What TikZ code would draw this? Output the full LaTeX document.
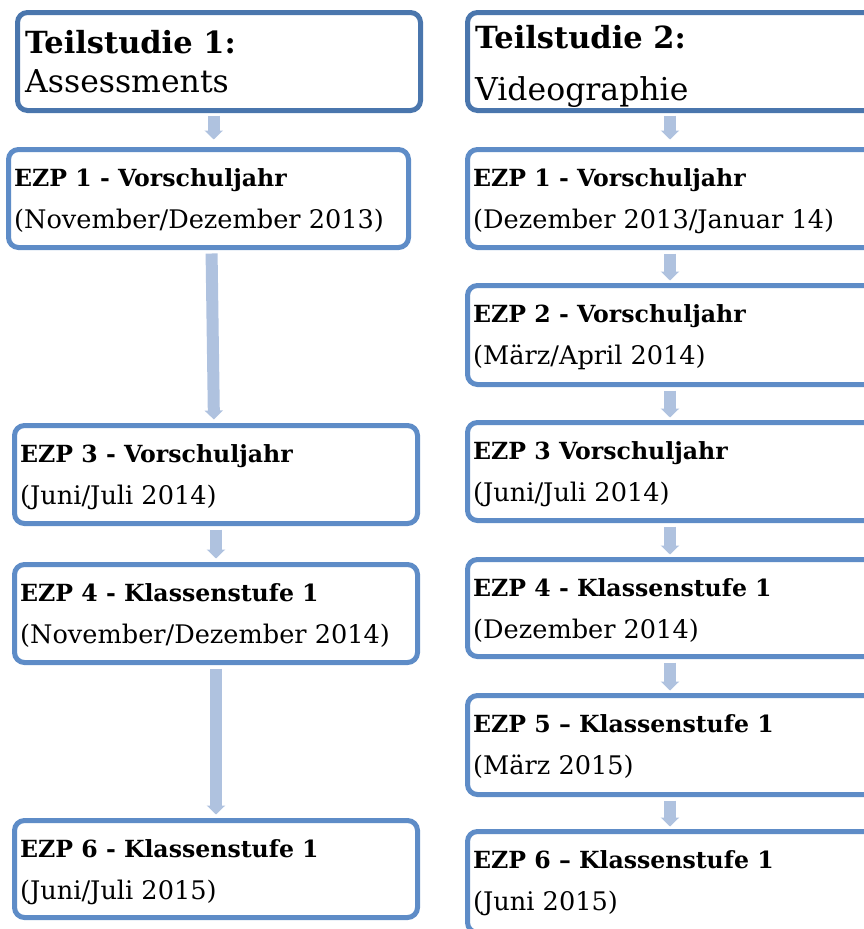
\documentclass[tikz,border=0pt]{standalone}
\usepackage{fontspec}
\setmainfont{DejaVu Serif}
\usetikzlibrary{arrows.meta,calc}
\definecolor{boxblue}{HTML}{5E8CC7}
\definecolor{headblue}{HTML}{4A76AD}
\definecolor{arrowblue}{HTML}{AFC2DF}
\newcommand\mkbox[7]{%
  \node[box, minimum width=#4, minimum height=#5] (#1) at (#2,#3) {};
  \node[boldtxt] (#1b) at ($(#1.north west)+(5.5,36.5)$) {#6};
  \node[regtxt] (#1r) at ($(#1.north west)+(5.5,78.5)$) {#7};
}
\begin{document}
\begin{tikzpicture}[x=1pt,y=-1pt,
  box/.style={draw=boxblue, line width=5pt, rounded corners=10pt, fill=white, inner sep=0pt, outer sep=0pt},
  headbox/.style={box, draw=headblue},
  boldtxt/.style={anchor=base west, inner sep=0pt, font=\fontsize{23.6}{27}\selectfont\bfseries},
  regtxt/.style={anchor=base west, inner sep=0pt, font=\fontsize{25.6}{28}\selectfont},
  titlebold/.style={anchor=base west, inner sep=0pt, font=\fontsize{30.5}{34}\selectfont\bfseries},
  titlereg/.style={anchor=base west, inner sep=0pt, font=\fontsize{31.5}{36}\selectfont},
  flow/.style={draw=arrowblue, line width=12pt, -{Triangle[width=18pt,length=9pt]}},
]
\useasboundingbox (0,0) rectangle (864,929);
\clip (0,0) rectangle (864,929);

% headers
\node[headbox, minimum width=403, minimum height=98] (T1) at (219,61.5) {};
\node[titlebold] (T1b) at (25,53) {Teilstudie 1:};
\node[titlereg] (T1r) at (25,92) {Assessments};
\node[headbox, minimum width=430, minimum height=98] (T2) at (682.5,61.5) {};
\node[titlebold] (T2b) at (475,48) {Teilstudie 2:};
\node[titlereg] (T2r) at (475,100) {Videographie};

% left column
\mkbox{L1}{208.5}{198.5}{400}{98}{EZP 1 - Vorschuljahr}{(November/Dezember 2013)}
\mkbox{L3}{216}{474.5}{403}{98}{EZP 3 - Vorschuljahr}{(Juni/Juli 2014)}
\mkbox{L4}{216}{613.5}{403}{98}{EZP 4 - Klassenstufe 1}{(November/Dezember 2014)}
\mkbox{L6}{216}{869}{403}{97}{EZP 6 - Klassenstufe 1}{(Juni/Juli 2015)}

% right column
\mkbox{R1}{682.5}{198.5}{430}{98}{EZP 1 - Vorschuljahr}{(Dezember 2013/Januar 14)}
\mkbox{R2}{682.5}{335}{430}{99}{EZP 2 - Vorschuljahr}{(März/April 2014)}
\mkbox{R3}{682.5}{471.5}{430}{98}{EZP 3 Vorschuljahr}{(Juni/Juli 2014)}
\mkbox{R4}{682.5}{608}{430}{97}{EZP 4 - Klassenstufe 1}{(Dezember 2014)}
\mkbox{R5}{682.5}{745}{430}{99}{EZP 5 – Klassenstufe 1}{(März 2015)}
\mkbox{R6}{682.5}{882}{430}{101}{EZP 6 – Klassenstufe 1}{(Juni 2015)}

% connectors
\coordinate (m1) at ($(T1.south)!.5!(L1.north)$);
\draw[flow, shorten <=5pt, shorten >=10pt] (m1 |- T1.south) -- (m1 |- L1.north);
\coordinate (rx) at (670,0);
\draw[flow, shorten <=5pt, shorten >=10pt] (rx |- T2.south) -- (rx |- R1.north);
\draw[flow, shorten <=6pt, shorten >=6pt] ($(L1.south)+(3,0)$) -- ($(L3.north)+(-2,0)$);
\draw[flow, shorten <=6pt, shorten >=6pt] (L3.south) -- (L4.north);
\draw[flow, shorten <=6pt, shorten >=6pt] (L4.south) -- (L6.north);
\draw[flow, shorten <=6pt, shorten >=5pt] (rx |- R1.south) -- (rx |- R2.north);
\draw[flow, shorten <=6pt, shorten >=5pt] (rx |- R2.south) -- (rx |- R3.north);
\draw[flow, shorten <=6pt, shorten >=5pt] (rx |- R3.south) -- (rx |- R4.north);
\draw[flow, shorten <=6pt, shorten >=5pt] (rx |- R4.south) -- (rx |- R5.north);
\draw[flow, shorten <=6pt, shorten >=5pt] (rx |- R5.south) -- (rx |- R6.north);
\end{tikzpicture}
\end{document}
